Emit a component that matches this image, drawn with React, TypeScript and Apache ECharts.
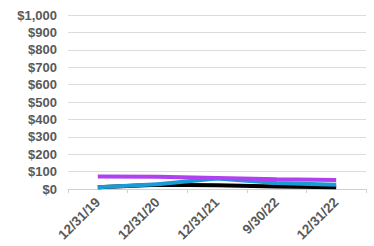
import React, { useEffect, useRef } from "react";
import * as echarts from "echarts";

const categories = ["12/31/19", "12/31/20", "12/31/21", "9/30/22", "12/31/22"];
const blackSeries = [10, 24, 22, 14, 10];
const blueSeries = [10, 27, 60, 35, 25];
const purpleSeries = [72, 70, 63, 56, 52];
const yTicks = [0, 100, 200, 300, 400, 500, 600, 700, 800, 900, 1000];

export default function App() {
  const ref = useRef<HTMLDivElement>(null);
  useEffect(() => {
    const chart = echarts.init(ref.current!, null, { renderer: "svg" });
    const font = "'Liberation Sans', Arial, sans-serif";
    const mk = (name: string, data: number[], color: string) => ({
      name,
      type: "line",
      data,
      symbol: "none",
      lineStyle: { color, width: 4 },
      itemStyle: { color },
    });
    chart.setOption({
      animation: false,
      grid: { left: 68, right: 8, top: 15, bottom: 57 },
      xAxis: {
        type: "category",
        data: categories,
        boundaryGap: true,
        axisLine: { lineStyle: { color: "#d0d0d0" } },
        axisTick: { show: true, lineStyle: { color: "#d0d0d0" }, length: 4 },
        axisLabel: {
          rotate: 45,
          color: "#595959",
          fontWeight: "bold",
          fontSize: 13.5,
          fontFamily: font,
          margin: 11,
          interval: 0,
        },
      },
      yAxis: {
        type: "value",
        min: yTicks[0],
        max: yTicks[yTicks.length - 1],
        interval: 100,
        axisLine: { show: false },
        axisTick: { show: false },
        splitLine: { lineStyle: { color: "#dcdcdc" } },
        axisLabel: {
          color: "#595959",
          fontWeight: "bold",
          fontSize: 13,
          fontFamily: font,
          margin: 11,
          formatter: (v: number) => "$" + v.toLocaleString("en-US"),
        },
      },
      series: [
        mk("Black", blackSeries, "#000000"),
        mk("Blue", blueSeries, "#1a9ad6"),
        mk("Purple", purpleSeries, "#b041ee"),
      ],
    });
    return () => chart.dispose();
  }, []);
  return <div ref={ref} style={{ width: 374, height: 246, position: "absolute", left: 0, top: 0 }} />;
}
